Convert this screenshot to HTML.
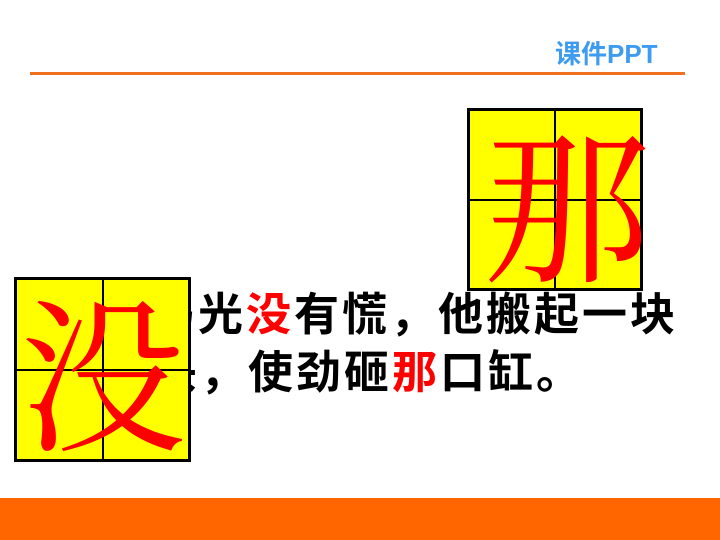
<!DOCTYPE html>
<html><head><meta charset="utf-8"><style>
body{margin:0;width:720px;height:540px;position:relative;overflow:hidden;background:#fff;font-family:"Liberation Sans","Noto Sans CJK SC",sans-serif}
.abs{position:absolute}
.line{position:absolute;font-size:45px;font-weight:bold;letter-spacing:3px;white-space:nowrap;line-height:1;color:#000}
.r{color:#f00}
.box{position:absolute;background:#ff0;border:3px solid #000;box-sizing:border-box;z-index:2}
.box .v{position:absolute;left:50%;top:0;bottom:0;width:2px;margin-left:-1px;background:#000}
.box .h{position:absolute;top:50%;left:0;right:0;height:2px;margin-top:-1px;background:#000}
.box .c{position:absolute;left:0;right:0;top:12px;bottom:0;text-align:center;color:#f00;font-family:"Liberation Serif","Noto Serif CJK SC",serif;font-size:166px;line-height:180px}
</style></head><body>
<div class="abs" style="left:555px;top:34px;font-size:26px;font-weight:bold;color:#3d9bf0">课件PPT</div>
<div class="abs" style="left:30px;top:72px;width:655px;height:3px;background:#f07020"></div>
<div class="line" style="left:102px;top:292px">司马光<span class="r">没</span>有慌，他搬起一块</div>
<div class="line" style="left:56px;top:350px">大石头，使劲砸<span class="r">那</span>口缸。</div>
<div class="box" style="left:467px;top:108px;width:176px;height:183px"><div class="v"></div><div class="h"></div><div class="c" style="padding-left:14px">那</div></div>
<div class="box" style="left:14px;top:277px;width:177px;height:185px"><div class="v"></div><div class="h"></div><div class="c">没</div></div>
<div class="abs" style="left:0;top:498px;width:720px;height:42px;background:#ff6600"></div>
</body></html>
